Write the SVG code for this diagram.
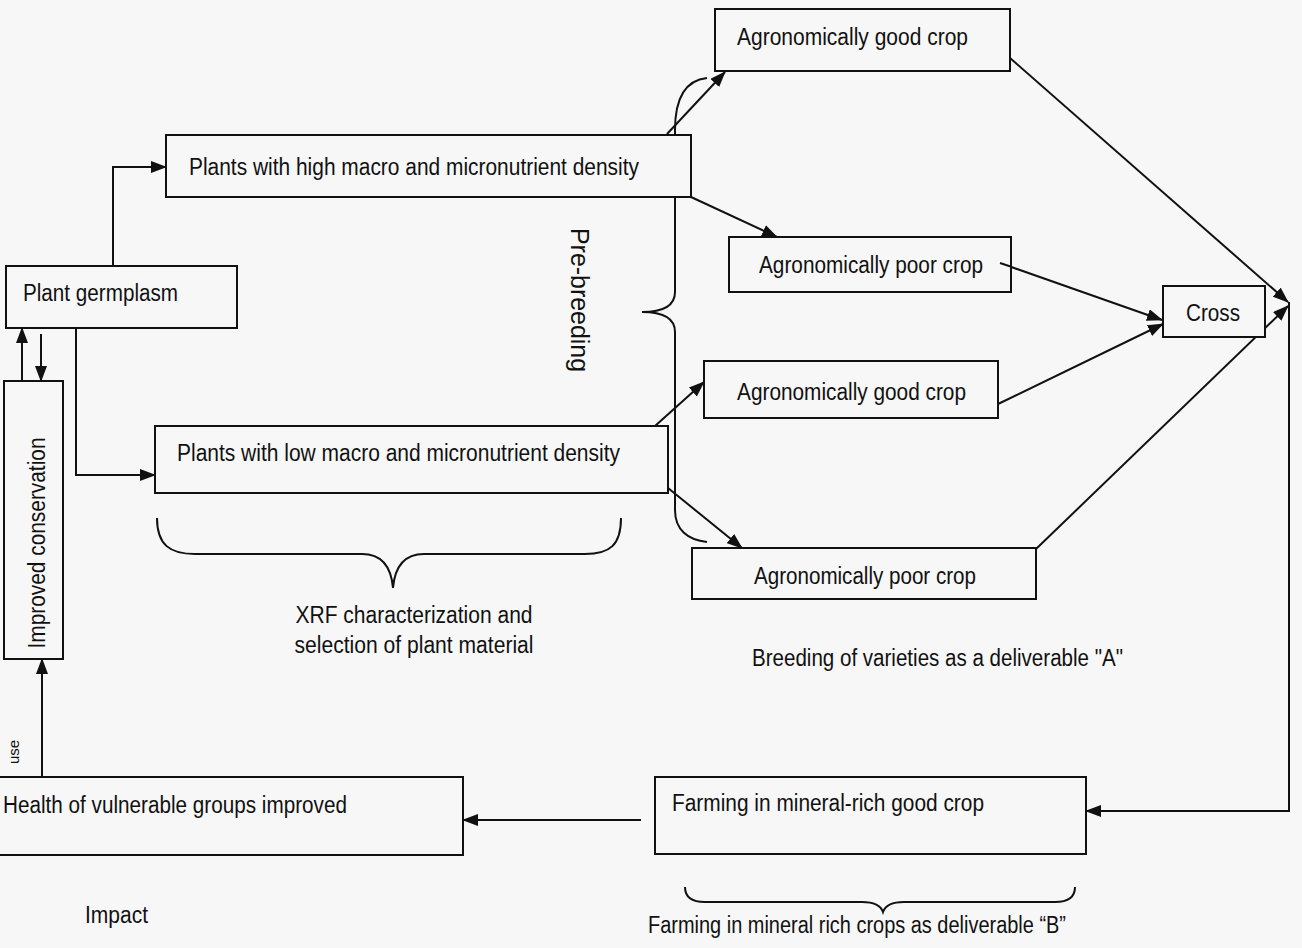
<svg xmlns="http://www.w3.org/2000/svg" width="1302" height="948" viewBox="0 0 1302 948">
<defs>
<marker id="ah" markerUnits="userSpaceOnUse" markerWidth="16" markerHeight="12" refX="15" refY="6" orient="auto">
<path d="M0,0 L16,6 L0,12 Z" fill="#111"/>
</marker>
<style>
.box{fill:#f7f7f7;stroke:#111;stroke-width:2}
.ln{fill:none;stroke:#111;stroke-width:2}
.ar{fill:none;stroke:#111;stroke-width:2;marker-end:url(#ah)}
.br{fill:none;stroke:#111;stroke-width:2}
text{font-family:"Liberation Sans",Arial,sans-serif;font-size:23px;fill:#111}
.big{font-size:25px}
.sm{font-size:15px}
</style>
</defs>
<rect x="0" y="0" width="1302" height="948" fill="#f7f7f7"/>

<g id="braces">
<path class="br" d="M707,78 C688,80 675,95 675,130 L675,292 C675,305 665,312 642,312 C665,312 675,319 675,332 L675,510 C675,530 688,540 707,542"/>
<path class="br" d="M157,518 C157,545 170,554 195,554 L362,554 C380,554 391,565 393,588 C395,565 406,554 424,554 L585,554 C610,554 621,545 621,518"/>
<path class="br" d="M685,887 C685,897 692,902 705,902 L862,902 C875,902 881,906 883,912 C885,906 891,902 904,902 L1055,902 C1068,902 1075,897 1075,887"/>
</g>

<g id="connectors">
<path class="ar" d="M113,266 L113,167 L166,167"/>
<path class="ar" d="M22,381 L22,328"/>
<path class="ar" d="M41,334 L41,381"/>
<path class="ar" d="M76,328 L76,475 L155,475"/>
<path class="ar" d="M667,134 L725,72"/>
<path class="ar" d="M691,197 L777,237"/>
<path class="ar" d="M1000,263 L1162,320"/>
<path class="ar" d="M1010,58 L1288,302"/>
<path class="ar" d="M998,404 L1163,324"/>
<path class="ar" d="M1036,549 L1288,306"/>
<path class="ar" d="M655,426 L704,382"/>
<path class="ar" d="M668,488 L742,548"/>
<path class="ar" d="M1289,302 L1289,811 L1086,811"/>
<path class="ar" d="M641,820 L463,820"/>
<path class="ar" d="M42,777 L42,659"/>
</g>

<g id="n-high"><rect class="box" x="166" y="135" width="525" height="62"/>
<text x="189" y="175" textLength="450" lengthAdjust="spacingAndGlyphs">Plants with high macro and micronutrient density</text></g>

<g id="n-germplasm"><rect class="box" x="6" y="266" width="231" height="62"/>
<text x="23" y="301" textLength="155" lengthAdjust="spacingAndGlyphs">Plant germplasm</text></g>

<g id="n-conservation"><rect class="box" x="4" y="381" width="59" height="278"/>
<text transform="translate(45,543) rotate(-90)" text-anchor="middle" textLength="211" lengthAdjust="spacingAndGlyphs">Improved conservation</text></g>

<g id="n-low"><rect class="box" x="155" y="426" width="513" height="67"/>
<text x="177" y="461" textLength="443" lengthAdjust="spacingAndGlyphs">Plants with low macro and micronutrient density</text></g>

<g id="l-xrf">
<text x="414" y="623" text-anchor="middle" textLength="237" lengthAdjust="spacingAndGlyphs">XRF characterization and</text>
<text x="414" y="653" text-anchor="middle" textLength="239" lengthAdjust="spacingAndGlyphs">selection of plant material</text>
</g>

<g id="l-prebreeding"><text class="big" transform="translate(571,300) rotate(90)" text-anchor="middle" textLength="144" lengthAdjust="spacingAndGlyphs">Pre-breeding</text></g>

<g id="n-good1"><rect class="box" x="715" y="9" width="295" height="62"/>
<text x="737" y="45" textLength="231" lengthAdjust="spacingAndGlyphs">Agronomically good crop</text></g>

<g id="n-poor1"><rect class="box" x="729" y="237" width="282" height="55"/>
<text x="759" y="273" textLength="224" lengthAdjust="spacingAndGlyphs">Agronomically poor crop</text></g>
<path class="ln" d="M1000,263 L1012,267"/>

<g id="n-cross"><rect class="box" x="1163" y="286" width="102" height="51"/>
<text x="1213" y="321" text-anchor="middle" textLength="54" lengthAdjust="spacingAndGlyphs">Cross</text></g>

<g id="n-good2"><rect class="box" x="704" y="361" width="294" height="57"/>
<text x="737" y="400" textLength="229" lengthAdjust="spacingAndGlyphs">Agronomically good crop</text></g>

<g id="n-poor2"><rect class="box" x="692" y="548" width="344" height="51"/>
<text x="754" y="584" textLength="222" lengthAdjust="spacingAndGlyphs">Agronomically poor crop</text></g>

<g id="l-breeding"><text x="752" y="666" textLength="371" lengthAdjust="spacingAndGlyphs">Breeding of varieties as a deliverable "A"</text></g>

<g id="n-health"><rect class="box" x="-4" y="777" width="467" height="78"/>
<text x="3" y="813" textLength="344" lengthAdjust="spacingAndGlyphs">Health of vulnerable groups improved</text></g>

<g id="l-use"><text class="sm" transform="translate(19,752) rotate(-90)" text-anchor="middle">use</text></g>

<g id="n-farming"><rect class="box" x="655" y="777" width="431" height="77"/>
<text x="672" y="811" textLength="312" lengthAdjust="spacingAndGlyphs">Farming in mineral-rich good crop</text></g>

<g id="l-impact"><text x="85" y="923" textLength="63" lengthAdjust="spacingAndGlyphs">Impact</text></g>

<g id="l-deliverableB"><text x="648" y="933" textLength="418" lengthAdjust="spacingAndGlyphs">Farming in mineral rich crops as deliverable “B”</text></g>
</svg>
